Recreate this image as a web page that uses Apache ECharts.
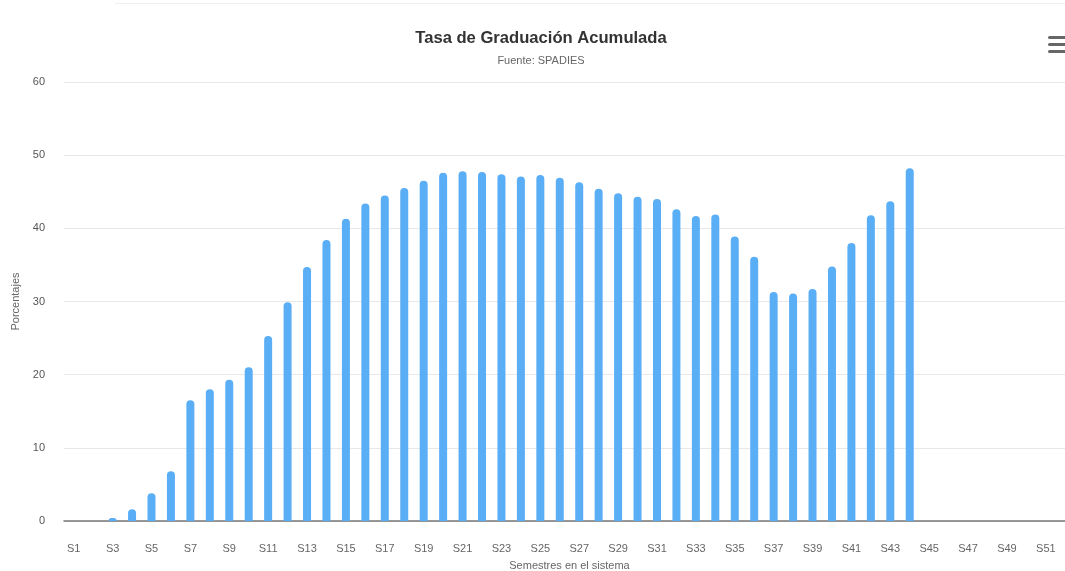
<!DOCTYPE html>
<html>
<head>
<meta charset="utf-8">
<script src="https://cdn.jsdelivr.net/npm/echarts@6/dist/echarts.min.js"></script>
<style>
html,body{margin:0;padding:0;background:#fff;}
#chart{width:1065px;height:571px;}
</style>
</head>
<body>
<div id="chart"></div>
<script>
const categories = ["S1","S2","S3","S4","S5","S6","S7","S8","S9","S10","S11","S12","S13","S14","S15","S16","S17","S18","S19","S20","S21","S22","S23","S24","S25","S26","S27","S28","S29","S30","S31","S32","S33","S34","S35","S36","S37","S38","S39","S40","S41","S42","S43","S44","S45","S46","S47","S48","S49","S50","S51","S52"];
const tasaAcumulada = [0,0,0.4,1.6,3.8,6.8,16.5,18.0,19.3,21.0,25.3,29.9,34.7,38.4,41.3,43.4,44.5,45.5,46.5,47.6,47.8,47.7,47.4,47.1,47.3,46.9,46.3,45.4,44.8,44.3,44.0,42.6,41.7,41.9,38.9,36.1,31.3,31.1,31.7,34.8,38.0,41.8,43.7,48.2,null,null,null,null,null,null,null,null];
const yTicks = {min:0, max:60, interval:10};
const titleText = "Tasa de Graduación Acumulada";
const subtitleText = "Fuente: SPADIES";
const xName = "Semestres en el sistema";
const yName = "Porcentajes";

const font = '"Liberation Sans", Arial, sans-serif';
const chart = echarts.init(document.getElementById('chart'), null, {renderer:'canvas'});
chart.setOption({
  animation:false,
  backgroundColor:'#ffffff',
  title:{
    text:titleText,
    subtext:subtitleText,
    left:536, top:25, textAlign:'center',
    itemGap:8,
    textStyle:{fontFamily:font, fontSize:16.6, fontWeight:'bold', color:'#333333'},
    subtextStyle:{fontFamily:font, fontSize:11, color:'#666666'}
  },
  graphic:[
    {type:'line', shape:{x1:115,y1:3.5,x2:1065,y2:3.5}, style:{stroke:'#eeeeee', lineWidth:1}},
    {type:'rect', shape:{x:1048,y:36,width:20,height:3,r:1.5}, style:{fill:'#666666'}},
    {type:'rect', shape:{x:1048,y:43,width:20,height:3,r:1.5}, style:{fill:'#666666'}},
    {type:'rect', shape:{x:1048,y:50,width:20,height:3,r:1.5}, style:{fill:'#666666'}}
  ],
  grid:{left:64, top:82, width:1011, height:439, containLabel:false, outerBoundsMode:'none'},
  xAxis:{
    type:'category',
    data:categories,
    name:xName,
    nameLocation:'middle',
    nameGap:39,
    nameTextStyle:{fontFamily:font, fontSize:11, color:'#666666'},
    axisLine:{lineStyle:{color:'#777777', width:1.5}},
    axisTick:{show:false},
    axisLabel:{interval:1, fontFamily:font, fontSize:11, color:'#666666', margin:22}
  },
  yAxis:{
    type:'value',
    min:yTicks.min, max:yTicks.max, interval:yTicks.interval,
    name:yName,
    nameLocation:'middle',
    nameGap:43,
    nameTextStyle:{fontFamily:font, fontSize:11, color:'#666666'},
    axisLine:{show:false},
    axisTick:{show:false},
    axisLabel:{fontFamily:font, fontSize:11, color:'#555555', margin:19},
    splitLine:{lineStyle:{color:'#e8e8e8', width:1}}
  },
  series:[{
    type:'bar',
    data:tasaAcumulada,
    barWidth:8,
    itemStyle:{color:'#5aaef6', borderRadius:[4,4,0,0]}
  }]
});
</script>
</body>
</html>
